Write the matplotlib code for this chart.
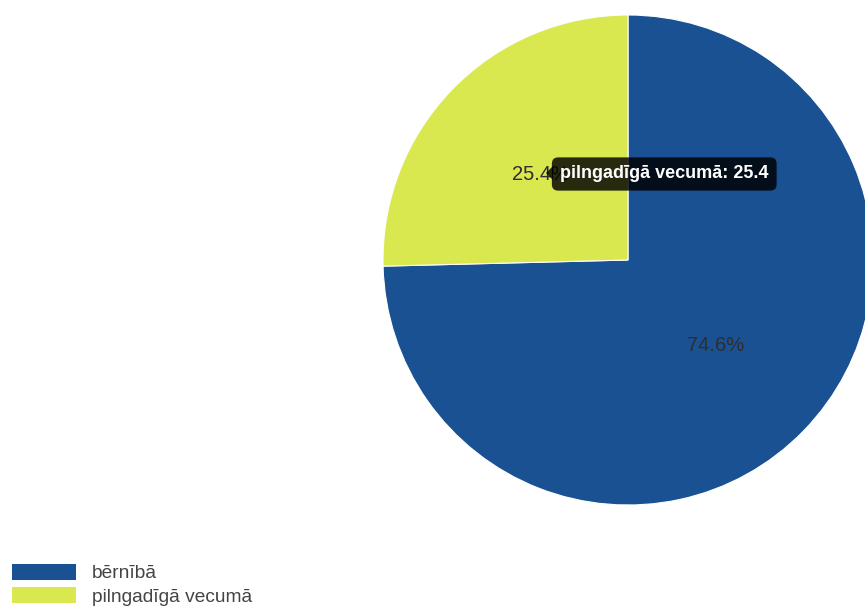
import matplotlib
matplotlib.use('Agg')
import matplotlib.pyplot as plt
from matplotlib.patches import Polygon

# data
labels = ['bērnībā', 'pilngadīgā vecumā']
values = [74.6, 25.4]
colors = ['#1a5192', '#d9e84f']
tooltip_idx = 1

W, H = 865, 606
fig = plt.figure(figsize=(W / 100, H / 100), dpi=100)

# pie centre / radius in pixels
cx, cy, r = 628, 260, 245
ax = fig.add_axes([(cx - r) / W, (H - cy - r) / H, 2 * r / W, 2 * r / H])
wedges, texts, autotexts = ax.pie(
    values, colors=colors, startangle=90, counterclock=False,
    autopct='%.1f%%', pctdistance=0.5, radius=1,
    wedgeprops=dict(linewidth=0.8, edgecolor='white'),
    textprops=dict(color='#2e2e2e', fontsize=14.5, family='Liberation Sans'))
ax.set_xlim(-1, 1)
ax.set_ylim(-1, 1)
ax.set_aspect('equal')
for w in wedges:
    w.set_clip_on(False)

# tooltip (covers part of the 25.4% label, as in the original)
tip = f'{labels[tooltip_idx]}: {values[tooltip_idx]}'
tx, ty = 560 / W, 1 - 174 / H
fig.text(tx, ty, tip, color='white', fontsize=13, fontweight='bold',
         family='Liberation Sans', va='center', ha='left',
         bbox=dict(boxstyle='round,pad=0.45,rounding_size=0.35',
                   facecolor='black', edgecolor='none', alpha=0.82))
caret = Polygon([(553 / W, 1 - 166 / H), (546 / W, 1 - 173 / H), (553 / W, 1 - 180 / H)],
                closed=True, transform=fig.transFigure, facecolor='black',
                edgecolor='none', alpha=0.82)
fig.patches.append(caret)

# legend
handles = [plt.Rectangle((0, 0), 1, 1, facecolor=c) for c in colors]
leg = fig.legend(handles, labels, loc='lower left', bbox_to_anchor=(12 / W, 0.0),
                 frameon=False, prop=dict(family='Liberation Sans', size=13.8),
                 handlelength=3.35, handleheight=0.9, handletextpad=0.83,
                 labelspacing=0.26, borderaxespad=0.0, borderpad=0.0)
for t in leg.get_texts():
    t.set_color('#444444')

fig.savefig('out.png', dpi=100)
